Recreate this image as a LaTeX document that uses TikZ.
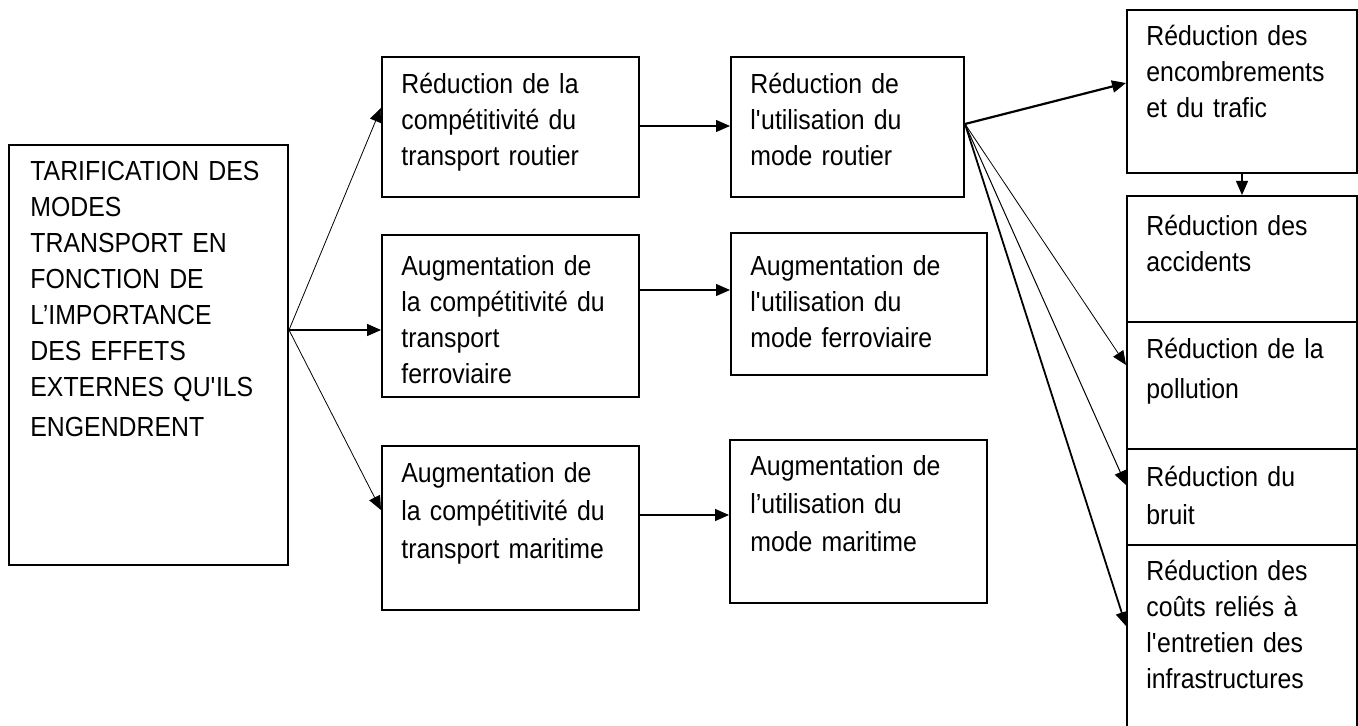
\documentclass[tikz,border=0pt]{standalone}
\usepackage{fontspec}
\setmainfont{Liberation Sans}[FakeStretch=0.9]
\usetikzlibrary{arrows.meta,fit}
\begin{document}
\begin{tikzpicture}[x=0.5pt,y=-0.5pt,
  box/.style={draw, line width=1pt, rectangle, inner sep=0pt},
  txt/.style={anchor=base west, align=left, inner sep=0pt, text width=140pt,
    font=\fontsize{13.8}{18}\selectfont},
  arr/.style={-{Triangle[length=7pt,width=6pt]}, line width=0.6pt},
]
\useasboundingbox (0,0) rectangle (1358,726);

% left box
\node[box, fit={(9,145) (288,565)}] (L) {};
\node[txt] (Lt) at (30,181) {TARIFICATION DES\\MODES\\TRANSPORT EN\\FONCTION DE\\L’IMPORTANCE\\DES EFFETS\\EXTERNES QU\textquotesingle ILS\\[2pt]ENGENDRENT};

% column 1
\node[box, fit={(382,57) (639,197)}] (A1) {};
\node[txt] (A1t) at (401,94) {Réduction de la\\compétitivité du\\transport routier};
\node[box, fit={(382,235) (639,397)}] (A2) {};
\node[txt] (A2t) at (401,276) {Augmentation de\\la compétitivité du\\transport\\ferroviaire};
\node[box, fit={(382,446) (639,610)}] (A3) {};
\node[txt, font=\fontsize{13.8}{19}\selectfont] (A3t) at (401,482) {Augmentation de\\la compétitivité du\\transport maritime};

% column 2
\node[box, fit={(731,57) (964,197)}] (B1) {};
\node[txt] (B1t) at (750,94) {Réduction de\\l\textquotesingle utilisation du\\mode routier};
\node[box, fit={(731,233) (987,375)}] (B2) {};
\node[txt] (B2t) at (750,276) {Augmentation de\\l\textquotesingle utilisation du\\mode ferroviaire};
\node[box, fit={(730,440) (987,603)}] (B3) {};
\node[txt, font=\fontsize{13.8}{19}\selectfont] (B3t) at (750,475) {Augmentation de\\l’utilisation du\\mode maritime};

% right column
\node[box, fit={(1127,10) (1357,173)}] (C1) {};
\node[txt] (C1t) at (1146,46) {Réduction des\\encombrements\\et du trafic};
\node[box, fit={(1127,196) (1357,322)}] (C2) {};
\node[txt] (C2t) at (1146,236) {Réduction des\\accidents};
\node[box, fit={(1127,322) (1357,449)}] (C3) {};
\node[txt, font=\fontsize{13.8}{20}\selectfont] (C3t) at (1146,359) {Réduction de la\\pollution};
\node[box, fit={(1127,449) (1357,545)}] (C4) {};
\node[txt, font=\fontsize{13.8}{19}\selectfont] (C4t) at (1146,487) {Réduction du\\bruit};
\node[box, fit={(1127,545) (1357,740)}] (C5) {};
\node[txt] (C5t) at (1146,580) {Réduction des\\coûts reliés à\\l\textquotesingle entretien des\\infrastructures};

% connectors
\draw[arr, line width=0.4pt] (L.east |- 0,330) -- (A1.west |- 0,108);
\draw[arr, line width=0.8pt] (L.east |- 0,330) -- (A2.west |- 0,330);
\draw[arr, line width=0.4pt] (L.east |- 0,330) -- (A3.west |- 0,510);

\draw[arr] (A1.east |- 0,126) -- (B1.west |- 0,126);
\draw[arr] (A2.east |- 0,290) -- (B2.west |- 0,290);
\draw[arr] (A3.east |- 0,515) -- (B3.west |- 0,515);

\draw[arr, line width=1.1pt] (B1.east |- 0,124) -- (C1.west |- 0,83);
\draw[arr, line width=0.4pt] (B1.east |- 0,124) -- (C3.west |- 0,365);
\draw[arr, line width=0.5pt] (B1.east |- 0,124) -- (C4.west |- 0,485);
\draw[arr, line width=0.9pt] (B1.east |- 0,124) -- (C5.west |- 0,626);

\draw[arr] (C1.south) -- (C2.north);
\end{tikzpicture}
\end{document}
